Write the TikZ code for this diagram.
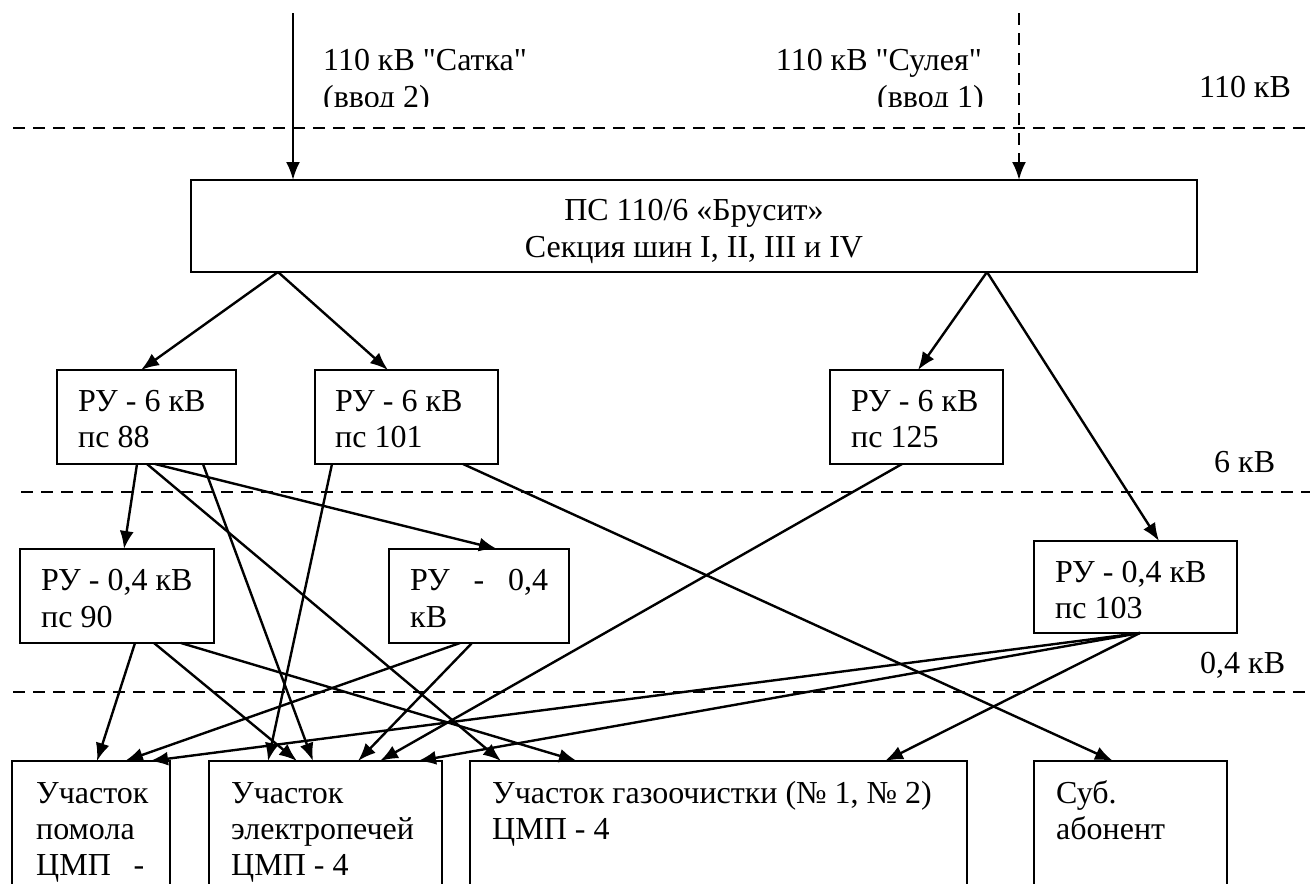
\documentclass[tikz,border=0pt]{standalone}
\usepackage{fontspec}
\setmainfont{Liberation Serif}[Ligatures=TeXOff]
\usetikzlibrary{arrows.meta}
\begin{document}
\begin{tikzpicture}[x=1pt,y=-1pt,
  box/.style={draw, line width=2pt, inner sep=0pt, outer sep=0pt, anchor=north west},
  conn/.style={line width=2.4pt, -{Latex[length=18pt,width=14pt]}},
  lvl/.style={line width=2pt, dash pattern=on 12pt off 8pt},
  txt/.style={inner sep=0pt, anchor=base west, font=\fontsize{32}{38}\selectfont},
]
\clip (0,0) rectangle (1310,884);
\fill[white] (0,0) rectangle (1310,884);

% level lines
\coordinate (l1a) at (13,128);  \coordinate (l1b) at (1310,128);
\coordinate (l2a) at (21,492);  \coordinate (l2b) at (1310,492);
\coordinate (l3a) at (13,692);  \coordinate (l3b) at (1310,692);
\draw[lvl] (l1a) -- (l1b);
\draw[lvl] (l2a) -- (l2b);
\draw[lvl] (l3a) -- (l3b);

% boxes
\node[box, minimum width=1006pt, minimum height=92pt] (main) at (191,180) {};
\node[box, minimum width=179pt, minimum height=94pt] (ps88) at (57,370) {};
\node[box, minimum width=183pt, minimum height=94pt] (ps101) at (315,370) {};
\node[box, minimum width=173pt, minimum height=94pt] (ps125) at (830,370) {};
\node[box, minimum width=194pt, minimum height=94pt] (ps90) at (20,549) {};
\node[box, minimum width=180pt, minimum height=94pt] (ru04) at (389,549) {};
\node[box, minimum width=203pt, minimum height=92pt] (ps103) at (1034,541) {};
\node[box, minimum width=158pt, minimum height=200pt] (b1) at (12,761) {};
\node[box, minimum width=233pt, minimum height=200pt] (b2) at (209,761) {};
\node[box, minimum width=497pt, minimum height=200pt] (b3) at (470,761) {};
\node[box, minimum width=193pt, minimum height=200pt] (b4) at (1034,761) {};

% texts
\begin{scope}
\clip (300,0) rectangle (1000,106);
\node[txt] (s1) at (323,70) {110 кВ "Сатка"};
\node[txt] (s2) at (323,107) {(ввод 2)};
\node[txt, anchor=base east] (u1) at (982,70) {110 кВ "Сулея"};
\node[txt, anchor=base east] (u2) at (984,107) {(ввод 1)};
\end{scope}
\node[txt] (v110) at (1199,97) {110 кВ};
\node[txt] (v6) at (1214,472) {6 кВ};
\node[txt] (v04) at (1200,673) {0,4 кВ};

\node[txt, anchor=base] (m1) at (694,220) {ПС 110/6 «Брусит»};
\node[txt, anchor=base] (m2) at (694,257) {Секция шин I, II, III и IV};

\node[txt] (t88a) at (78,411) {РУ - 6 кВ};
\node[txt] (t88b) at (78,447) {пс 88};
\node[txt] (t101a) at (335,411) {РУ - 6 кВ};
\node[txt] (t101b) at (335,447) {пс 101};
\node[txt] (t125a) at (851,411) {РУ - 6 кВ};
\node[txt] (t125b) at (851,447) {пс 125};
\node[txt] (t90a) at (41,590) {РУ - 0,4 кВ};
\node[txt] (t90b) at (41,627) {пс 90};
\node[txt] (tr1) at (410,590) {\hbox to 138pt{РУ\hfil-\hfil0,4}};
\node[txt] (tr2) at (410,627) {кВ};
\node[txt] (t103a) at (1055,582) {РУ - 0,4 кВ};
\node[txt] (t103b) at (1055,618) {пс 103};

\node[txt] (b1a) at (36,803) {Участок};
\node[txt] (b1b) at (36,839) {помола};
\node[txt] (b1c) at (36,875) {\hbox to 108pt{ЦМП\hfil-}};
\node[txt] (b2a) at (231,803) {Участок};
\node[txt] (b2b) at (231,839) {электропечей};
\node[txt] (b2c) at (231,875) {ЦМП - 4};
\node[txt] (b3a) at (492,803) {Участок газоочистки (№ 1, № 2)};
\node[txt] (b3b) at (492,839) {ЦМП - 4};
\node[txt] (b4a) at (1056,803) {Суб.};
\node[txt] (b4b) at (1056,839) {абонент};

% incoming feeders
\coordinate (in2) at (293,13);
\coordinate (in1) at (1019,13);
\draw[conn] (in2) -- ([xshift=102pt]main.north west);
\draw[conn, dash pattern=on 12pt off 8pt] (in1) -- ([xshift=828pt]main.north west);

% from main
\draw[conn] ([xshift=87pt]main.south west) -- ([xshift=84pt]ps88.north west);
\draw[conn] ([xshift=87pt]main.south west) -- ([xshift=73pt]ps101.north west);
\draw[conn] ([xshift=796pt]main.south west) -- ([xshift=88pt]ps125.north west);
\draw[conn] ([xshift=796pt]main.south west) -- ([xshift=125pt]ps103.north west);

% from ps88
\draw[conn] ([xshift=80pt]ps88.south west) -- ([xshift=104pt]ps90.north west);
\draw[conn] ([xshift=98pt]ps88.south west) -- ([xshift=108pt]ru04.north west);
\draw[conn] ([xshift=90pt]ps88.south west) -- ([xshift=31pt]b3.north west);
\draw[conn] ([xshift=146pt]ps88.south west) -- ([xshift=104pt]b2.north west);

% from ps101
\draw[conn] ([xshift=17pt]ps101.south west) -- ([xshift=59pt]b2.north west);
\draw[conn] ([xshift=148pt]ps101.south west) -- ([xshift=79pt]b4.north west);

% from ps125
\draw[conn] ([xshift=72pt]ps125.south west) -- ([xshift=171pt]b2.north west);

% from ps90
\draw[conn] ([xshift=115pt]ps90.south west) -- ([xshift=85pt]b1.north west);
\draw[conn] ([xshift=134pt]ps90.south west) -- ([xshift=88pt]b2.north west);
\draw[conn] ([xshift=161pt]ps90.south west) -- ([xshift=107pt]b3.north west);

% from ru04
\draw[conn] ([xshift=71pt]ru04.south west) -- ([xshift=113pt]b1.north west);
\draw[conn] ([xshift=83pt]ru04.south west) -- ([xshift=149pt]b2.north west);

% from ps103
\draw[conn] ([xshift=106pt]ps103.south west) -- ([xshift=138pt]b1.north west);
\draw[conn] ([xshift=106pt]ps103.south west) -- ([xshift=209pt]b2.north west);
\draw[conn] ([xshift=106pt]ps103.south west) -- ([xshift=415pt]b3.north west);
\end{tikzpicture}
\end{document}
